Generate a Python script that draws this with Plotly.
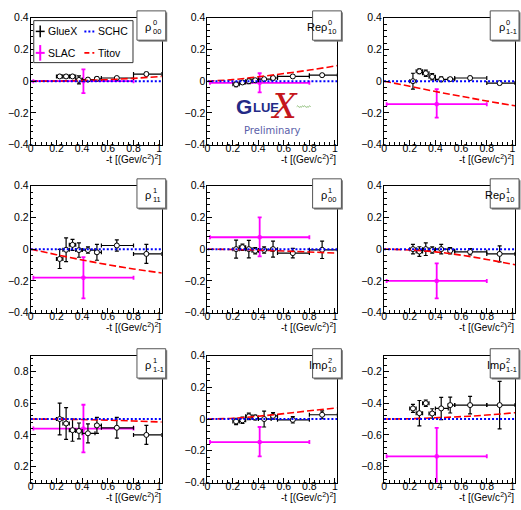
import plotly.graph_objects as go

W, H = 521, 510


def px(x):
    return x / W


def py(y):
    return 1 - y / H


# ---- -t binning of the GlueX measurement, (GeV/c^2)^2 ----
T_MID = [0.225, 0.275, 0.325, 0.375, 0.445, 0.515, 0.67, 0.9]
T_LOW = [0.2, 0.25, 0.3, 0.35, 0.4, 0.5, 0.55, 0.8]
T_HIGH = [0.25, 0.3, 0.35, 0.4, 0.5, 0.55, 0.8, 1.02]

# ---- GlueX spin-density matrix elements ----
GLUEX_RHO0_00 = [0.03, 0.03, 0.03, 0.008, 0.01, 0.015, 0.02, 0.045]
GLUEX_RHO0_00_ERR = [0.01, 0.01, 0.01, 0.025, 0.01, 0.01, 0.008, 0.01]
GLUEX_RERHO0_10 = [-0.02, -0.008, 0.0, 0.006, 0.013, 0.02, 0.03, 0.038]
GLUEX_RERHO0_10_ERR = [0.015, 0.012, 0.015, 0.01, 0.01, 0.01, 0.008, 0.01]
GLUEX_RHO0_1M1 = [0.0, 0.062, 0.05, 0.028, 0.012, 0.013, 0.02, -0.012]
GLUEX_RHO0_1M1_ERR = [0.05, 0.015, 0.02, 0.02, 0.015, 0.01, 0.01, 0.01]
GLUEX_RHO1_11 = [-0.062, -0.004, 0.027, -0.006, -0.006, -0.02, 0.023, -0.03]
GLUEX_RHO1_11_ERR = [0.06, 0.075, 0.035, 0.045, 0.02, 0.05, 0.035, 0.06]
GLUEX_RHO1_00 = [0.0, 0.012, 0.0, -0.01, -0.005, 0.0, -0.025, -0.004]
GLUEX_RHO1_00_ERR = [0.057, 0.02, 0.055, 0.02, 0.02, 0.05, 0.03, 0.055]
GLUEX_RERHO1_10 = [0.0, -0.015, 0.0, -0.005, 0.0, -0.01, -0.017, -0.03]
GLUEX_RERHO1_10_ERR = [0.03, 0.03, 0.04, 0.02, 0.03, 0.02, 0.02, 0.05]
GLUEX_RHO1_1M1 = [0.5, 0.472, 0.43, 0.425, 0.41, 0.46, 0.445, 0.4]
GLUEX_RHO1_1M1_ERR = [0.1, 0.1, 0.07, 0.05, 0.06, 0.05, 0.065, 0.06]
GLUEX_IMRHO2_10 = [-0.015, -0.008, 0.017, 0.01, 0.0, 0.02, -0.005, 0.027]
GLUEX_IMRHO2_10_ERR = [0.02, 0.02, 0.02, 0.015, 0.05, 0.02, 0.02, 0.025]
GLUEX_IMRHO2_1M1 = [-0.433, -0.463, -0.4, -0.465, -0.433, -0.412, -0.412, -0.412]
GLUEX_IMRHO2_1M1_ERR = [0.025, 0.08, 0.02, 0.03, 0.07, 0.05, 0.055, 0.15]

# ---- SLAC single point (one wide t bin) ----
SLAC_T = 0.41
SLAC_T_LOW = 0.02
SLAC_T_HIGH = 0.8
SLAC_VALUE = [0.0, -0.01, -0.145, -0.18, 0.075, -0.2, 0.44, -0.145, -0.735]
SLAC_ERR_UP = [0.075, 0.06, 0.095, 0.13, 0.125, 0.11, 0.15, 0.095, 0.18]
SLAC_ERR_DOWN = [0.075, 0.06, 0.085, 0.13, 0.12, 0.11, 0.15, 0.09, 0.17]

# ---- s-channel helicity conservation expectation ----
SCHC_T = [0.0, 1.02]
SCHC_VALUE = [0.0, 0.0, 0.0, 0.0, 0.0, 0.0, 0.5, 0.0, -0.5]

# ---- Titov model curves ----
TITOV_T = [0.0, 0.2, 0.4, 0.6, 0.8, 1.02]
TITOV_RHO0_00 = [0.0, 0.001, 0.004, 0.01, 0.018, 0.03]
TITOV_RERHO0_10 = [0.0, 0.01, 0.028, 0.048, 0.07, 0.098]
TITOV_RHO0_1M1 = [0.0, -0.032, -0.065, -0.095, -0.125, -0.155]
TITOV_RHO1_11 = [0.0, -0.035, -0.068, -0.098, -0.125, -0.15]
TITOV_RHO1_00 = [0.0, -0.002, -0.006, -0.012, -0.018, -0.025]
TITOV_RERHO1_10 = [0.0, -0.005, -0.017, -0.038, -0.065, -0.098]
TITOV_RHO1_1M1 = [0.5, 0.499, 0.497, 0.493, 0.488, 0.481]
TITOV_IMRHO2_10 = [0.0, 0.005, 0.018, 0.034, 0.052, 0.07]
TITOV_IMRHO2_1M1 = [-0.5, -0.498, -0.492, -0.485, -0.475, -0.46]

# ---- panel titles: prefix, superscript, subscript ----
TITLE_PREFIX = ["", "Re", "", "", "", "Re", "", "Im", "Im"]
TITLE_SUP = ["0", "0", "0", "1", "1", "1", "1", "2", "2"]
TITLE_SUB = ["00", "10", "1-1", "11", "00", "10", "1-1", "10", "1-1"]

Y_RANGES = [[-0.4, 0.4]] * 6 + [[0.1, 0.9], [-0.4, 0.4], [-0.9, -0.1]]
X_RANGE = [0.0, 1.02]
X_TITLE = "-t [(Gev/c<sup>2</sup>)<sup>2</sup>]"

GLUEX_SETS = [
    (GLUEX_RHO0_00, GLUEX_RHO0_00_ERR),
    (GLUEX_RERHO0_10, GLUEX_RERHO0_10_ERR),
    (GLUEX_RHO0_1M1, GLUEX_RHO0_1M1_ERR),
    (GLUEX_RHO1_11, GLUEX_RHO1_11_ERR),
    (GLUEX_RHO1_00, GLUEX_RHO1_00_ERR),
    (GLUEX_RERHO1_10, GLUEX_RERHO1_10_ERR),
    (GLUEX_RHO1_1M1, GLUEX_RHO1_1M1_ERR),
    (GLUEX_IMRHO2_10, GLUEX_IMRHO2_10_ERR),
    (GLUEX_IMRHO2_1M1, GLUEX_IMRHO2_1M1_ERR),
]
TITOV_SETS = [
    TITOV_RHO0_00, TITOV_RERHO0_10, TITOV_RHO0_1M1,
    TITOV_RHO1_11, TITOV_RHO1_00, TITOV_RERHO1_10,
    TITOV_RHO1_1M1, TITOV_IMRHO2_10, TITOV_IMRHO2_1M1,
]

# frame positions of the 3x3 grid in page pixels
COL_X = [(28, 160), (206, 337), (384, 516)]
ROW_Y = [(12, 142), (184, 314), (358, 488)]

MAGENTA = "#ff00ff"
BLUE = "#0000ff"
RED = "#ff0000"
FONT = "Liberation Sans, Arial, sans-serif"

fig = go.Figure()
shapes = []
annotations = []
layout_axes = {}

gx_plus = [h - m for h, m in zip(T_HIGH, T_MID)]
gx_minus = [m - l for m, l in zip(T_MID, T_LOW)]

for i in range(9):
    r, c = divmod(i, 3)
    n = "" if i == 0 else str(i + 1)
    xa, ya = "x" + n, "y" + n
    x0, x1 = COL_X[c]
    y0, y1 = ROW_Y[r]

    common = dict(
        showgrid=False, zeroline=False, showline=True, mirror=True,
        linecolor="black", linewidth=1, ticks="inside", ticklen=5,
        tickcolor="black", tickwidth=1,
        tickfont=dict(family=FONT, size=10.5, color="black"),
        minor=dict(ticks="inside", ticklen=2.5, tickcolor="black",
                   dtick=0.04, tick0=0),
        fixedrange=True,
    )
    layout_axes["xaxis" + n] = dict(
        common, domain=[px(x0), px(x1)], range=X_RANGE, anchor=ya,
        dtick=0.2, tick0=0, ticklabelstandoff=-6,
    )
    layout_axes["yaxis" + n] = dict(
        common, domain=[py(y1), py(y0)], range=Y_RANGES[i], anchor=xa,
        dtick=0.2, tick0=0, ticklabelstandoff=-1,
    )

    # SLAC point
    fig.add_trace(go.Scatter(
        x=[SLAC_T], y=[SLAC_VALUE[i]], xaxis=xa, yaxis=ya, mode="markers",
        marker=dict(symbol="square-open", size=3, color=MAGENTA,
                    line=dict(width=1, color=MAGENTA)),
        error_x=dict(type="data", symmetric=False,
                     array=[SLAC_T_HIGH - SLAC_T],
                     arrayminus=[SLAC_T - SLAC_T_LOW],
                     color=MAGENTA, thickness=1.8, width=2),
        error_y=dict(type="data", symmetric=False,
                     array=[SLAC_ERR_UP[i]], arrayminus=[SLAC_ERR_DOWN[i]],
                     color=MAGENTA, thickness=1.8, width=2),
        showlegend=False, cliponaxis=True,
    ))

    # GlueX points
    vals, errs = GLUEX_SETS[i]
    fig.add_trace(go.Scatter(
        x=T_MID, y=vals, xaxis=xa, yaxis=ya, mode="markers",
        marker=dict(symbol="circle", size=5, color="white",
                    line=dict(width=1, color="black")),
        error_x=dict(type="data", symmetric=False, array=gx_plus,
                     arrayminus=gx_minus, color="black", thickness=1.2,
                     width=2),
        error_y=dict(type="data", array=errs, color="black",
                     thickness=1.2, width=2),
        showlegend=False,
    ))

    # Titov model
    fig.add_trace(go.Scatter(
        x=TITOV_T, y=TITOV_SETS[i], xaxis=xa, yaxis=ya, mode="lines",
        line=dict(color=RED, width=1.6, dash="7px,3px", shape="spline"),
        showlegend=False,
    ))

    # SCHC expectation
    fig.add_trace(go.Scatter(
        x=SCHC_T, y=[SCHC_VALUE[i]] * 2, xaxis=xa, yaxis=ya, mode="lines",
        line=dict(color=BLUE, width=2, dash="2px,2px"),
        showlegend=False,
    ))

    # x-axis title, right aligned
    annotations.append(dict(
        x=px(x1 + 1), y=py(y1 + 15), xref="paper", yref="paper",
        xanchor="right", yanchor="middle", showarrow=False,
        text=X_TITLE, font=dict(family=FONT, size=10, color="black"),
    ))

    # title box with shadow
    bl, bt = x1 - 25, y0 - 7
    br, bb = x1 + 4, y0 + 23
    shapes.append(dict(type="rect", xref="paper", yref="paper",
                       x0=px(bl + 1.5), x1=px(br + 1.5),
                       y0=py(bb + 1.5), y1=py(bt + 1.5),
                       fillcolor="#777777", line=dict(width=0),
                       layer="above"))
    shapes.append(dict(type="rect", xref="paper", yref="paper",
                       x0=px(bl), x1=px(br), y0=py(bb), y1=py(bt),
                       fillcolor="white",
                       line=dict(color="#555555", width=1),
                       layer="above"))
    xr = bl + 15.5
    annotations.append(dict(
        x=px(xr + 1), y=py(bt + 17), xref="paper", yref="paper",
        xanchor="right", yanchor="middle", showarrow=False,
        text=TITLE_PREFIX[i] + "ρ",
        font=dict(family=FONT, size=11, color="black"),
    ))
    annotations.append(dict(
        x=px(xr - 1.5), y=py(bt + 12), xref="paper", yref="paper",
        xanchor="left", yanchor="middle", showarrow=False,
        text=TITLE_SUP[i], font=dict(family=FONT, size=7.5, color="black"),
    ))
    annotations.append(dict(
        x=px(xr - 1.5), y=py(bt + 21), xref="paper", yref="paper",
        xanchor="left", yanchor="middle", showarrow=False,
        text=TITLE_SUB[i], font=dict(family=FONT, size=7.5, color="black"),
    ))

# ---- legend in the first panel ----
shapes.append(dict(type="rect", xref="paper", yref="paper",
                   x0=px(31), x1=px(131), y0=py(58), y1=py(15),
                   fillcolor="white", line=dict(color="#333333", width=1),
                   layer="above"))
# GlueX key
shapes.append(dict(type="line", xref="paper", yref="paper",
                   x0=px(37.5), x1=px(37.5), y0=py(20), y1=py(32),
                   line=dict(color="black", width=1.5), layer="above"))
shapes.append(dict(type="line", xref="paper", yref="paper",
                   x0=px(33), x1=px(42), y0=py(26), y1=py(26),
                   line=dict(color="black", width=1.5), layer="above"))
# SLAC key
shapes.append(dict(type="line", xref="paper", yref="paper",
                   x0=px(37.5), x1=px(37.5), y0=py(40), y1=py(56),
                   line=dict(color=MAGENTA, width=2), layer="above"))
shapes.append(dict(type="line", xref="paper", yref="paper",
                   x0=px(33), x1=px(42), y0=py(48), y1=py(48),
                   line=dict(color=MAGENTA, width=2), layer="above"))
# SCHC key
shapes.append(dict(type="line", xref="paper", yref="paper",
                   x0=px(82), x1=px(92), y0=py(26), y1=py(26),
                   line=dict(color=BLUE, width=2, dash="2px,2px"),
                   layer="above"))
# Titov key
shapes.append(dict(type="line", xref="paper", yref="paper",
                   x0=px(82), x1=px(92), y0=py(48), y1=py(48),
                   line=dict(color=RED, width=1.6, dash="5px,3px"),
                   layer="above"))
for label, lx, ly in [("GlueX", 43, 26), ("SCHC", 94, 26),
                      ("SLAC", 43, 48), ("Titov", 94, 48)]:
    annotations.append(dict(
        x=px(lx), y=py(ly), xref="paper", yref="paper", xanchor="left",
        yanchor="middle", showarrow=False, text=label,
        font=dict(family=FONT, size=10.5, color="black"),
    ))

# ---- GlueX "Preliminary" logo in the second panel ----
NAVY = "#232a86"
annotations += [
    dict(x=px(243), y=py(103), xref="paper", yref="paper",
         xanchor="center", yanchor="middle", showarrow=False,
         text="<b>G</b>", font=dict(family=FONT, size=21, color=NAVY)),
    dict(x=px(250), y=py(104), xref="paper", yref="paper",
         xanchor="left", yanchor="middle", showarrow=False,
         text="<b>LUE</b>", font=dict(family=FONT, size=13, color=NAVY)),
    dict(x=px(283), y=py(103), xref="paper", yref="paper",
         xanchor="center", yanchor="middle", showarrow=False,
         text="<i>X</i>",
         font=dict(family="DejaVu Serif, serif", size=33, color="#c4161c")),
    dict(x=px(272), y=py(127), xref="paper", yref="paper",
         xanchor="center", yanchor="middle", showarrow=False,
         text="Preliminary",
         font=dict(family="DejaVu Sans, sans-serif", size=10,
                   color="#5a5ea8")),
]
wave = "M {},{}".format(px(296), py(103))
for k in range(4):
    xa_ = 296 + k * 3.5
    wave += " Q {},{} {},{}".format(px(xa_ + 0.9), py(101.5 if k % 2 == 0 else 104.5),
                                    px(xa_ + 1.75), py(103))
    wave += " Q {},{} {},{}".format(px(xa_ + 2.6), py(104.5 if k % 2 == 0 else 101.5),
                                    px(xa_ + 3.5), py(103))
shapes.append(dict(type="path", xref="paper", yref="paper", path=wave,
                   line=dict(color="#6aa84f", width=0.8), layer="above"))

fig.update_layout(
    width=W, height=H, margin=dict(l=0, r=0, t=0, b=0),
    paper_bgcolor="white", plot_bgcolor="white",
    showlegend=False, shapes=shapes, annotations=annotations,
    **layout_axes,
)

fig.write_html("out.html", config={"displayModeBar": False})
